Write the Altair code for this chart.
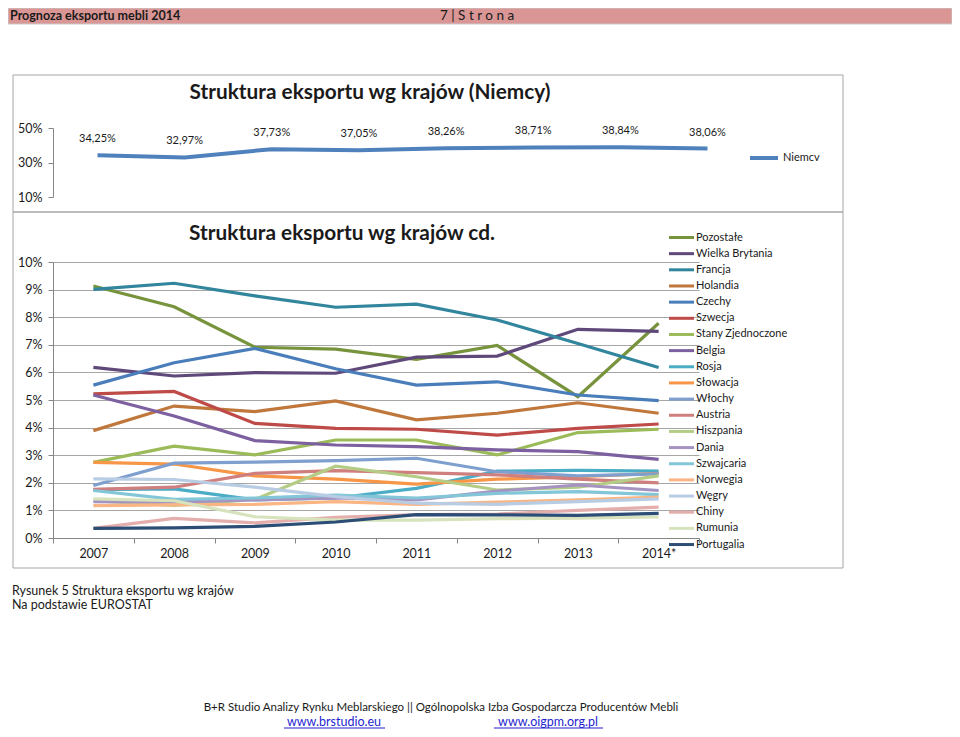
import altair as alt
import pandas as pd

FONT = "Lato"
TXT = "#1a1a1a"
AXC = "#868686"

years = ["2007", "2008", "2009", "2010", "2011", "2012", "2013", "2014*"]

niemcy = [34.25, 32.97, 37.73, 37.05, 38.26, 38.71, 38.84, 38.06]

countries = ["Pozostałe", "Wielka Brytania", "Francja", "Holandia", "Czechy", "Szwecja",
             "Stany Zjednoczone", "Belgia", "Rosja", "Słowacja", "Włochy", "Austria",
             "Hiszpania", "Dania", "Szwajcaria", "Norwegia", "Węgry", "Chiny", "Rumunia",
             "Portugalia"]
colors = ["#77933c", "#5f497a", "#31859c", "#c0773c", "#4a7ebb", "#be4b48",
          "#9bbb59", "#7d60a0", "#4bacc6", "#f79646", "#7f9fcf", "#cf7f7d",
          "#b4cc85", "#a593c2", "#82c6d8", "#f9b583", "#b8cce4", "#e3aeac", "#d6e3bc",
          "#2c4d75"]

pozostale = [9.13, 8.38, 6.91, 6.84, 6.47, 6.98, 5.12, 7.78]
wielka_brytania = [6.18, 5.87, 5.99, 5.97, 6.55, 6.59, 7.56, 7.49]
francja = [9.01, 9.23, 8.77, 8.36, 8.47, 7.90, 7.05, 6.18]
holandia = [3.89, 4.78, 4.58, 4.97, 4.28, 4.52, 4.90, 4.52]
czechy = [5.54, 6.35, 6.87, 6.13, 5.54, 5.66, 5.18, 4.98]
szwecja = [5.22, 5.31, 4.15, 3.97, 3.94, 3.73, 3.97, 4.13]
stany_zjednoczone = [2.74, 3.33, 3.01, 3.55, 3.55, 3.01, 3.82, 3.94]
belgia = [5.18, 4.42, 3.53, 3.37, 3.31, 3.19, 3.13, 2.85]
rosja = [1.75, 1.78, 1.38, 1.45, 1.80, 2.42, 2.45, 2.42]
slowacja = [2.74, 2.68, 2.25, 2.13, 1.95, 2.13, 2.22, 2.34]
wlochy = [1.90, 2.71, 2.75, 2.80, 2.89, 2.40, 2.25, 2.32]
austria = [1.76, 1.84, 2.34, 2.44, 2.37, 2.29, 2.13, 2.00]
hiszpania = [1.35, 1.18, 1.40, 2.60, 2.22, 1.74, 1.84, 2.25]
dania = [1.32, 1.30, 1.38, 1.45, 1.38, 1.70, 1.92, 1.72]
szwajcaria = [1.72, 1.40, 1.45, 1.55, 1.45, 1.62, 1.68, 1.57]
norwegia = [1.17, 1.20, 1.22, 1.32, 1.22, 1.30, 1.38, 1.48]
wegry = [2.14, 2.12, 1.84, 1.50, 1.26, 1.22, 1.32, 1.42]
chiny = [0.35, 0.71, 0.55, 0.75, 0.85, 0.87, 1.00, 1.12]
rumunia = [1.42, 1.35, 0.77, 0.65, 0.65, 0.70, 0.72, 0.76]
portugalia = [0.35, 0.37, 0.42, 0.58, 0.85, 0.84, 0.82, 0.89]

series = [pozostale, wielka_brytania, francja, holandia, czechy, szwecja,
          stany_zjednoczone, belgia, rosja, slowacja, wlochy, austria, hiszpania,
          dania, szwajcaria, norwegia, wegry, chiny, rumunia, portugalia]

W, H = 944, 721

rows = []
for i, (name, vals) in enumerate(zip(countries, series)):
    for y, v in zip(years, vals):
        rows.append({"kraj": name, "rok": y, "udzial": v, "ord": i})
low_df = pd.DataFrame(rows)

top_df = pd.DataFrame({
    "rok": years,
    "udzial": niemcy,
    "etykieta": [f"{v:.2f}".replace(".", ",") + "%" for v in niemcy],
    "seria": ["Niemcv"] * len(years),
})

one = pd.DataFrame({"k": [0]})


def rect(x, y, x2, y2, **kw):
    return alt.Chart(one).mark_rect(**kw).encode(
        x=alt.value(x), y=alt.value(y), x2=alt.value(x2), y2=alt.value(y2))


def text(t, x, y, **kw):
    opts = dict(font=FONT, color=TXT, baseline="middle")
    opts.update(kw)
    return alt.Chart(one).mark_text(text=t, **opts).encode(x=alt.value(x), y=alt.value(y))


# ---------- decorations ----------
header = rect(0, 0, W, 16, fill="#d99694", stroke="#c9c9c9", strokeWidth=1)
header_l = text("Prognoza eksportu mebli 2014", 2, 8, align="left", fontSize=12.5, fontWeight="bold")
header_r = text("7 | S t r o n a", 432, 8, align="left", fontSize=13.5)

frame_top = rect(5, 67, 835, 204, fillOpacity=0, stroke="#a6a6a6", strokeWidth=1)
frame_low = rect(5, 204, 835, 560, fillOpacity=0, stroke="#a6a6a6", strokeWidth=1)

title_top = text("Struktura eksportu wg krajów (Niemcy)", 362, 85, align="center", fontSize=20.8, fontWeight="bold")
title_low = text("Struktura eksportu wg krajów cd.", 334, 226, align="center", fontSize=20.8, fontWeight="bold")

cap1 = text("Rysunek 5 Struktura eksportu wg krajów", 4, 583, align="left", fontSize=12.5)
cap2 = text("Na podstawie EUROSTAT", 4, 597, align="left", fontSize=12.5)

foot = text("B+R Studio Analizy Rynku Meblarskiego  || Ogólnopolska Izba Gospodarcza Producentów Mebli",
            433, 700, align="center", fontSize=11.5)
link1 = text("www.brstudio.eu", 326, 713.5, align="center", fontSize=12.5, color="#1f1fd0")
link2 = text("www.oigpm.org.pl", 540, 713.5, align="center", fontSize=12.5, color="#1f1fd0")
ul1 = alt.Chart(one).mark_rule(color="#1f1fd0", strokeWidth=1).encode(
    x=alt.value(276), x2=alt.value(377), y=alt.value(720))
ul2 = alt.Chart(one).mark_rule(color="#1f1fd0", strokeWidth=1).encode(
    x=alt.value(486), x2=alt.value(595), y=alt.value(720))

# ---------- top chart (Niemcy) ----------
xt = alt.X("rok:O", scale=alt.Scale(type="point", domain=years, range=[89.5, 699.5], padding=0), axis=None)
yt = alt.Y("udzial:Q", scale=alt.Scale(domain=[10, 50], range=[189, 120]),
           axis=alt.Axis(values=[10, 30, 50], orient="left", offset=-45,
                         labelExpr="datum.value + '%'", grid=False, tickSize=5,
                         domainColor=AXC, tickColor=AXC, labelFontSize=12.5, labelColor=TXT,
                         labelFont=FONT, labelPadding=6, title=None, zindex=1))
top_line = alt.Chart(top_df).mark_line(strokeWidth=4).encode(
    x=xt, y=yt,
    color=alt.Color("seria:N", scale=alt.Scale(domain=["Niemcv"], range=["#4f81bd"]),
                    legend=alt.Legend(orient="none", legendX=749, legendY=143, title=None,
                                      symbolType="M-2.8,0H2.8", symbolSize=100,
                                      symbolStrokeWidth=4, labelFontSize=11, labelFont=FONT,
                                      labelColor=TXT, labelOffset=12, padding=0)))
top_lab = alt.Chart(top_df).mark_text(dy=-16, fontSize=11, font=FONT, color=TXT).encode(
    x=xt, y=yt, text="etykieta:N")
top = alt.layer(top_line, top_lab)

# ---------- lower chart ----------
xl = alt.X("rok:O", scale=alt.Scale(type="band", domain=years, range=[45, 691],
                                    paddingInner=0, paddingOuter=0),
           bandPosition=0.5,
           axis=alt.Axis(orient="bottom", offset=-191, tickBand="extent", tickSize=5,
                         labelAngle=0, labelFontSize=12.5, labelPadding=4, labelColor=TXT,
                         labelFont=FONT, domainColor=AXC, tickColor=AXC, title=None,
                         grid=False, zindex=1))
yl = alt.Y("udzial:Q", scale=alt.Scale(domain=[0, 10], range=[530, 254]),
           axis=alt.Axis(values=list(range(11)), orient="left", offset=-45,
                         labelExpr="datum.value + '%'", grid=True, gridColor="#a6a6a6",
                         tickSize=5, domainColor=AXC, tickColor=AXC, labelFontSize=12.5,
                         labelColor=TXT, labelFont=FONT, labelPadding=6, title=None))
low = alt.Chart(low_df).mark_line(strokeWidth=3.2).encode(
    x=xl, y=yl,
    color=alt.Color("kraj:N", scale=alt.Scale(domain=countries, range=colors),
                    legend=alt.Legend(orient="none", legendX=667, legendY=223, title=None,
                                      symbolType="M-2.5,0H2.5", symbolSize=100,
                                      symbolStrokeWidth=3, labelFontSize=11, labelFont=FONT,
                                      labelColor=TXT, labelOffset=8, rowPadding=3.16,
                                      padding=0, labelLimit=200)),
    order=alt.Order("ord:Q"),
    detail="kraj:N")

chart = alt.layer(
    header, header_l, header_r, frame_top, frame_low, title_top, title_low,
    top, low, cap1, cap2, foot, link1, link2, ul1, ul2
).resolve_scale(
    x="independent", y="independent", color="independent"
).properties(
    width=W, height=H, padding=0, autosize=alt.AutoSizeParams(type="none"),
    background="white"
).configure_view(strokeWidth=0)

chart.save("out.html", embed_options={"renderer": "svg", "actions": False})
